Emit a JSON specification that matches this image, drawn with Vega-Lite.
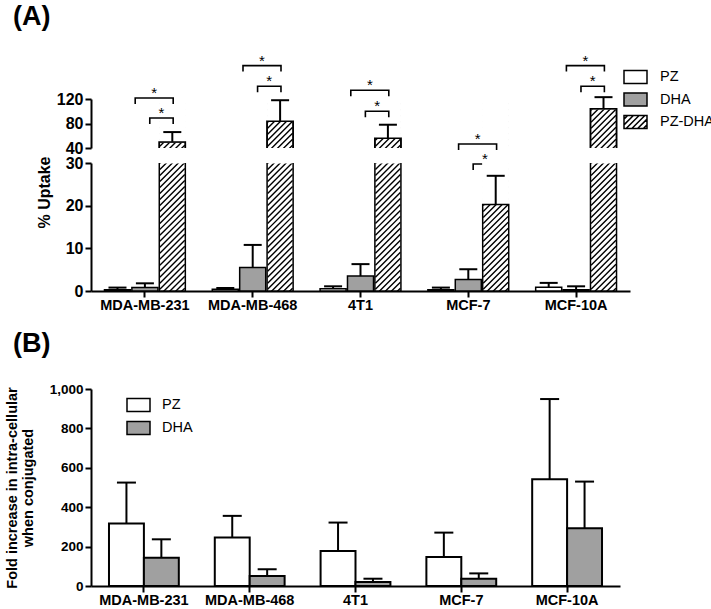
{
  "$schema": "https://vega.github.io/schema/vega-lite/v6.json",
  "padding": {"left": 4, "top": 2, "right": 0, "bottom": 0},
  "autosize": {"type": "pad"},
  "background": "white",
  "config": {
    "view": {"stroke": null},
    "font": "Liberation Sans",
    "axis": {"domainColor": "black", "domainWidth": 2, "ticks": true, "tickColor": "black", "tickWidth": 2, "tickSize": 6, "labelColor": "black", "labelFont": "Liberation Sans", "labelFontWeight": "bold", "labelFontSize": 16, "labelOverlap": false, "titleColor": "black", "titleFont": "Liberation Sans", "titleFontWeight": "bold", "titleFontSize": 16, "grid": false, "labelPadding": 2},
    "axisX": {"labelAngle": 0, "labelFontSize": 14.5, "labelPadding": 1},
    "title": {"font": "Liberation Sans", "fontWeight": "bold", "fontSize": 27, "color": "black", "anchor": "start", "frame": "group"}
  },
  "datasets": {
    "uptake": [
      {"cell": "MDA-MB-231", "group": "PZ", "mean": 0.3, "hi": 0.8},
      {"cell": "MDA-MB-231", "group": "DHA", "mean": 0.8, "hi": 1.8},
      {"cell": "MDA-MB-231", "group": "PZ-DHA", "mean": 50, "hi": 66},
      {"cell": "MDA-MB-468", "group": "PZ", "mean": 0.4, "hi": 0.7},
      {"cell": "MDA-MB-468", "group": "DHA", "mean": 5.5, "hi": 10.8},
      {"cell": "MDA-MB-468", "group": "PZ-DHA", "mean": 83.6, "hi": 118},
      {"cell": "4T1", "group": "PZ", "mean": 0.5, "hi": 1.1},
      {"cell": "4T1", "group": "DHA", "mean": 3.5, "hi": 6.3},
      {"cell": "4T1", "group": "PZ-DHA", "mean": 56, "hi": 78},
      {"cell": "MCF-7", "group": "PZ", "mean": 0.3, "hi": 0.8},
      {"cell": "MCF-7", "group": "DHA", "mean": 2.7, "hi": 5.1},
      {"cell": "MCF-7", "group": "PZ-DHA", "mean": 20.3, "hi": 27},
      {"cell": "MCF-10A", "group": "PZ", "mean": 0.9, "hi": 1.9},
      {"cell": "MCF-10A", "group": "DHA", "mean": 0.3, "hi": 1.1},
      {"cell": "MCF-10A", "group": "PZ-DHA", "mean": 104, "hi": 123}
    ],
    "sig": [
      {"cell": "MDA-MB-231", "kind": "outer", "level": 121.6},
      {"cell": "MDA-MB-231", "kind": "inner", "level": 89},
      {"cell": "MDA-MB-468", "kind": "outer", "level": 174.5},
      {"cell": "MDA-MB-468", "kind": "inner", "level": 140.7},
      {"cell": "4T1", "kind": "outer", "level": 134.2},
      {"cell": "4T1", "kind": "inner", "level": 99.9},
      {"cell": "MCF-7", "kind": "outer", "level": 46.5},
      {"cell": "MCF-7", "kind": "inner", "level": 13.9},
      {"cell": "MCF-10A", "kind": "outer", "level": 174.5},
      {"cell": "MCF-10A", "kind": "inner", "level": 140.7}
    ],
    "fold": [
      {"cell": "MDA-MB-231", "group": "PZ", "mean": 317, "hi": 525},
      {"cell": "MDA-MB-231", "group": "DHA", "mean": 144, "hi": 237},
      {"cell": "MDA-MB-468", "group": "PZ", "mean": 246, "hi": 356},
      {"cell": "MDA-MB-468", "group": "DHA", "mean": 51, "hi": 85},
      {"cell": "4T1", "group": "PZ", "mean": 178, "hi": 322},
      {"cell": "4T1", "group": "DHA", "mean": 20, "hi": 37},
      {"cell": "MCF-7", "group": "PZ", "mean": 147, "hi": 271},
      {"cell": "MCF-7", "group": "DHA", "mean": 37, "hi": 64},
      {"cell": "MCF-10A", "group": "PZ", "mean": 542, "hi": 949},
      {"cell": "MCF-10A", "group": "DHA", "mean": 293, "hi": 530}
    ]
  },
  "bounds": "flush",
  "spacing": 15,
  "resolve": {"scale": {"x": "independent", "y": "independent", "xOffset": "independent", "fill": "independent", "shape": "independent"}},
  "vconcat": [
    {
      "width": 539,
      "height": 49,
      "title": {"text": "(A)", "dx": -78, "offset": 23},
      "data": {"name": "uptake"},
      "layer": [
        {
          "mark": {"type": "bar", "clip": true, "stroke": "black", "strokeWidth": 1.5},
          "encoding": {
            "x": {"field": "cell", "type": "nominal", "scale": {"domain": ["MDA-MB-231", "MDA-MB-468", "4T1", "MCF-7", "MCF-10A"], "paddingInner": 0.25, "paddingOuter": 0.125}, "axis": null},
            "xOffset": {"field": "group", "type": "nominal", "scale": {"domain": ["PZ", "DHA", "PZ-DHA"], "paddingInner": 0.05, "paddingOuter": 0}},
            "y": {"field": "mean", "type": "quantitative", "scale": {"domain": [40, 120], "nice": false, "zero": false}, "axis": {"values": [40, 80, 120], "tickCount": 10, "title": null, "labelOverlap": false, "ticks": true}},
            "y2": {"datum": 0},
            "fill": {"field": "group", "type": "nominal", "scale": {"domain": ["PZ", "DHA", "PZ-DHA"], "range": ["white", "#a0a0a0", "white"]}}
          }
        },
        {
          "transform": [{"filter": "datum.group === 'PZ-DHA'"}],
          "mark": {"type": "point", "shape": "M-0.96,2.16L0.96,0.24M-0.96,1.7L0.96,-0.22M-0.96,1.24L0.96,-0.68M-0.96,0.78L0.96,-1.14M-0.96,0.32L0.96,-1.6M-0.96,-0.14L0.96,-2.06M-0.96,-0.6L0.96,-2.52M-0.96,-1.06L0.96,-2.98M-0.96,-1.52L0.96,-3.44M-0.96,-1.98L0.96,-3.9M-0.96,-2.44L0.96,-4.36M-0.96,-2.9L0.96,-4.82M-0.96,-3.36L0.96,-5.28", "size": 676, "filled": false, "stroke": "black", "strokeWidth": 1.4, "opacity": 1, "clip": true},
          "encoding": {
            "x": {"field": "cell", "type": "nominal", "scale": {"domain": ["MDA-MB-231", "MDA-MB-468", "4T1", "MCF-7", "MCF-10A"], "paddingInner": 0.25, "paddingOuter": 0.125}, "axis": null},
            "xOffset": {"field": "group", "type": "nominal", "scale": {"domain": ["PZ", "DHA", "PZ-DHA"], "paddingInner": 0.05, "paddingOuter": 0}},
            "y": {"datum": 40}
          }
        },
        {
          "transform": [{"filter": "datum.group === 'PZ-DHA'"}],
          "mark": {"type": "bar", "clip": true, "fill": "white", "stroke": "white", "strokeWidth": 1},
          "encoding": {
            "x": {"field": "cell", "type": "nominal", "scale": {"domain": ["MDA-MB-231", "MDA-MB-468", "4T1", "MCF-7", "MCF-10A"], "paddingInner": 0.25, "paddingOuter": 0.125}, "axis": null},
            "xOffset": {"field": "group", "type": "nominal", "scale": {"domain": ["PZ", "DHA", "PZ-DHA"], "paddingInner": 0.05, "paddingOuter": 0}},
            "y": {"field": "mean", "type": "quantitative", "scale": {"domain": [40, 120], "nice": false, "zero": false}},
            "y2": {"datum": 120}
          }
        },
        {
          "mark": {"type": "bar", "clip": true, "fillOpacity": 0, "stroke": "black", "strokeWidth": 1.5},
          "encoding": {
            "x": {"field": "cell", "type": "nominal", "scale": {"domain": ["MDA-MB-231", "MDA-MB-468", "4T1", "MCF-7", "MCF-10A"], "paddingInner": 0.25, "paddingOuter": 0.125}, "axis": null},
            "xOffset": {"field": "group", "type": "nominal", "scale": {"domain": ["PZ", "DHA", "PZ-DHA"], "paddingInner": 0.05, "paddingOuter": 0}},
            "y": {"field": "mean", "type": "quantitative", "scale": {"domain": [40, 120], "nice": false, "zero": false}},
            "y2": {"datum": 0}
          }
        },
        {
          "transform": [{"filter": "datum.mean > 40"}],
          "mark": {"type": "rule", "color": "black", "strokeWidth": 2},
          "encoding": {
            "x": {"field": "cell", "type": "nominal", "scale": {"domain": ["MDA-MB-231", "MDA-MB-468", "4T1", "MCF-7", "MCF-10A"], "paddingInner": 0.25, "paddingOuter": 0.125}, "axis": null},
            "xOffset": {"field": "group", "type": "nominal", "scale": {"domain": ["PZ", "DHA", "PZ-DHA"], "paddingInner": 0.05, "paddingOuter": 0}},
            "y": {"field": "mean", "type": "quantitative", "scale": {"domain": [40, 120], "nice": false, "zero": false}},
            "y2": {"field": "hi"}
          }
        },
        {
          "transform": [{"filter": "datum.mean > 40"}],
          "mark": {"type": "tick", "orient": "horizontal", "color": "black", "size": 18, "thickness": 2, "opacity": 1},
          "encoding": {
            "x": {"field": "cell", "type": "nominal", "scale": {"domain": ["MDA-MB-231", "MDA-MB-468", "4T1", "MCF-7", "MCF-10A"], "paddingInner": 0.25, "paddingOuter": 0.125}, "axis": null},
            "xOffset": {"field": "group", "type": "nominal", "scale": {"domain": ["PZ", "DHA", "PZ-DHA"], "paddingInner": 0.05, "paddingOuter": 0}},
            "y": {"field": "hi", "type": "quantitative", "scale": {"domain": [40, 120], "nice": false, "zero": false}}
          }
        },
        {
          "mark": {"type": "point", "filled": true, "stroke": "black", "strokeWidth": 1.5, "opacity": 1, "size": 529, "clip": true},
          "encoding": {
            "x": {"field": "cell", "type": "nominal", "scale": {"domain": ["MDA-MB-231", "MDA-MB-468", "4T1", "MCF-7", "MCF-10A"], "paddingInner": 0.25, "paddingOuter": 0.125}, "axis": null},
            "xOffset": {"field": "group", "type": "nominal", "scale": {"domain": ["PZ", "DHA", "PZ-DHA"], "paddingInner": 0.05, "paddingOuter": 0}},
            "y": {"datum": 0},
            "fill": {"field": "group", "type": "nominal", "scale": {"domain": ["PZ", "DHA", "PZ-DHA"], "range": ["white", "#a0a0a0", "white"]},
              "legend": {"orient": "none", "legendX": 532, "legendY": -34.5, "title": null, "direction": "vertical", "padding": 0, "rowPadding": 0.5, "symbolSize": 529, "symbolStrokeColor": "black", "symbolStrokeWidth": 1.5, "symbolOpacity": 1, "labelOffset": 12, "labelFontSize": 14.5, "labelFont": "Liberation Sans", "labelColor": "black"}},
            "shape": {"field": "group", "type": "nominal", "scale": {"domain": ["PZ", "DHA", "PZ-DHA"], "range": ["M-1,-0.565H1V0.565H-1Z", "M-1,-0.565H1V0.565H-1Z", "M-1,-0.565H1V0.565H-1Z M-1,-0.25L-0.685,-0.565 M-1,0.25L-0.185,-0.565 M-0.815,0.565L0.315,-0.565 M-0.315,0.565L0.815,-0.565 M0.185,0.565L1,-0.25 M0.685,0.565L1,0.25"]},
              "legend": {"orient": "none", "legendX": 532, "legendY": -34.5, "title": null, "direction": "vertical", "padding": 0, "rowPadding": 0.5, "symbolSize": 529, "symbolStrokeColor": "black", "symbolStrokeWidth": 1.5, "symbolOpacity": 1, "labelOffset": 12, "labelFontSize": 14.5, "labelFont": "Liberation Sans", "labelColor": "black"}}
          }
        },
        {
          "data": {"name": "sig"},
          "transform": [{"filter": "datum.kind === 'outer'"}],
          "mark": {"type": "point", "shape": "M-1,0.3158V0H1V0.3158", "size": 1444, "filled": false, "stroke": "black", "strokeWidth": 1.6, "opacity": 1},
          "encoding": {
            "x": {"field": "cell", "type": "nominal", "bandPosition": 0.615, "scale": {"domain": ["MDA-MB-231", "MDA-MB-468", "4T1", "MCF-7", "MCF-10A"], "paddingInner": 0.25, "paddingOuter": 0.125}, "axis": null},
            "y": {"field": "level", "type": "quantitative", "scale": {"domain": [40, 120], "nice": false, "zero": false}}
          }
        },
        {
          "data": {"name": "sig"},
          "transform": [{"filter": "datum.kind === 'inner'"}],
          "mark": {"type": "point", "shape": "M-1,0.513V0H1V0.513", "size": 547.6, "filled": false, "stroke": "black", "strokeWidth": 1.6, "opacity": 1},
          "encoding": {
            "x": {"field": "cell", "type": "nominal", "bandPosition": 0.705, "scale": {"domain": ["MDA-MB-231", "MDA-MB-468", "4T1", "MCF-7", "MCF-10A"], "paddingInner": 0.25, "paddingOuter": 0.125}, "axis": null},
            "y": {"field": "level", "type": "quantitative", "scale": {"domain": [40, 120], "nice": false, "zero": false}}
          }
        },
        {
          "data": {"name": "sig"},
          "transform": [{"filter": "datum.kind === 'outer'"}],
          "mark": {"type": "text", "font": "Liberation Sans", "fontSize": 15, "baseline": "alphabetic", "color": "black"},
          "encoding": {
            "x": {"field": "cell", "type": "nominal", "bandPosition": 0.615, "scale": {"domain": ["MDA-MB-231", "MDA-MB-468", "4T1", "MCF-7", "MCF-10A"], "paddingInner": 0.25, "paddingOuter": 0.125}, "axis": null},
            "y": {"field": "level", "type": "quantitative", "scale": {"domain": [40, 120], "nice": false, "zero": false}},
            "text": {"value": "*"}
          }
        },
        {
          "data": {"name": "sig"},
          "transform": [{"filter": "datum.kind === 'inner'"}],
          "mark": {"type": "text", "font": "Liberation Sans", "fontSize": 15, "baseline": "alphabetic", "color": "black"},
          "encoding": {
            "x": {"field": "cell", "type": "nominal", "bandPosition": 0.705, "scale": {"domain": ["MDA-MB-231", "MDA-MB-468", "4T1", "MCF-7", "MCF-10A"], "paddingInner": 0.25, "paddingOuter": 0.125}, "axis": null},
            "y": {"field": "level", "type": "quantitative", "scale": {"domain": [40, 120], "nice": false, "zero": false}},
            "text": {"value": "*"}
          }
        }
      ]
    },
    {
      "width": 539,
      "height": 128,
      "data": {"name": "uptake"},
      "layer": [
        {
          "mark": {"type": "bar", "clip": true, "strokeWidth": 0},
          "encoding": {
            "x": {"field": "cell", "type": "nominal", "scale": {"domain": ["MDA-MB-231", "MDA-MB-468", "4T1", "MCF-7", "MCF-10A"], "paddingInner": 0.25, "paddingOuter": 0.125}, "axis": {"title": null, "labelAngle": 0, "labelOverlap": false, "ticks": true}},
            "xOffset": {"field": "group", "type": "nominal", "scale": {"domain": ["PZ", "DHA", "PZ-DHA"], "paddingInner": 0.05, "paddingOuter": 0}},
            "y": {"field": "mean", "type": "quantitative", "scale": {"domain": [0, 30], "nice": false}, "axis": {"values": [0, 10, 20, 30], "tickCount": 10, "title": "% Uptake", "titleY": 29, "titlePadding": 13, "labelOverlap": false, "ticks": true}},
            "y2": {"datum": 0},
            "fill": {"field": "group", "type": "nominal", "scale": {"domain": ["PZ", "DHA", "PZ-DHA"], "range": ["white", "#a0a0a0", "white"]}, "legend": null}
          }
        },
        {
          "transform": [{"filter": "datum.group === 'PZ-DHA'"}],
          "mark": {"type": "point", "shape": "M-0.96,2.16L0.96,0.24M-0.96,1.7L0.96,-0.22M-0.96,1.24L0.96,-0.68M-0.96,0.78L0.96,-1.14M-0.96,0.32L0.96,-1.6M-0.96,-0.14L0.96,-2.06M-0.96,-0.6L0.96,-2.52M-0.96,-1.06L0.96,-2.98M-0.96,-1.52L0.96,-3.44M-0.96,-1.98L0.96,-3.9M-0.96,-2.44L0.96,-4.36M-0.96,-2.9L0.96,-4.82M-0.96,-3.36L0.96,-5.28M-0.96,-3.82L0.96,-5.74M-0.96,-4.28L0.96,-6.2M-0.96,-4.74L0.96,-6.66M-0.96,-5.2L0.96,-7.12M-0.96,-5.66L0.96,-7.58M-0.96,-6.12L0.96,-8.04M-0.96,-6.58L0.96,-8.5M-0.96,-7.04L0.96,-8.96M-0.96,-7.5L0.96,-9.42M-0.96,-7.96L0.96,-9.88M-0.96,-8.42L0.96,-10.34M-0.96,-8.88L0.96,-10.8M-0.96,-9.34L0.96,-11.26M-0.96,-9.8L0.96,-11.72", "size": 676, "filled": false, "stroke": "black", "strokeWidth": 1.4, "opacity": 1, "clip": true},
          "encoding": {
            "x": {"field": "cell", "type": "nominal", "scale": {"domain": ["MDA-MB-231", "MDA-MB-468", "4T1", "MCF-7", "MCF-10A"], "paddingInner": 0.25, "paddingOuter": 0.125}},
            "xOffset": {"field": "group", "type": "nominal", "scale": {"domain": ["PZ", "DHA", "PZ-DHA"], "paddingInner": 0.05, "paddingOuter": 0}},
            "y": {"datum": 0}
          }
        },
        {
          "transform": [{"filter": "datum.group === 'PZ-DHA'"}],
          "mark": {"type": "bar", "clip": true, "fill": "white", "stroke": "white", "strokeWidth": 1},
          "encoding": {
            "x": {"field": "cell", "type": "nominal", "scale": {"domain": ["MDA-MB-231", "MDA-MB-468", "4T1", "MCF-7", "MCF-10A"], "paddingInner": 0.25, "paddingOuter": 0.125}},
            "xOffset": {"field": "group", "type": "nominal", "scale": {"domain": ["PZ", "DHA", "PZ-DHA"], "paddingInner": 0.05, "paddingOuter": 0}},
            "y": {"field": "mean", "type": "quantitative", "scale": {"domain": [0, 30], "nice": false}},
            "y2": {"datum": 30}
          }
        },
        {
          "mark": {"type": "bar", "clip": true, "fillOpacity": 0, "stroke": "black", "strokeWidth": 1.5},
          "encoding": {
            "x": {"field": "cell", "type": "nominal", "scale": {"domain": ["MDA-MB-231", "MDA-MB-468", "4T1", "MCF-7", "MCF-10A"], "paddingInner": 0.25, "paddingOuter": 0.125}},
            "xOffset": {"field": "group", "type": "nominal", "scale": {"domain": ["PZ", "DHA", "PZ-DHA"], "paddingInner": 0.05, "paddingOuter": 0}},
            "y": {"field": "mean", "type": "quantitative", "scale": {"domain": [0, 30], "nice": false}},
            "y2": {"datum": 0}
          }
        },
        {
          "transform": [{"filter": "datum.hi <= 30"}],
          "mark": {"type": "rule", "color": "black", "strokeWidth": 2},
          "encoding": {
            "x": {"field": "cell", "type": "nominal", "scale": {"domain": ["MDA-MB-231", "MDA-MB-468", "4T1", "MCF-7", "MCF-10A"], "paddingInner": 0.25, "paddingOuter": 0.125}},
            "xOffset": {"field": "group", "type": "nominal", "scale": {"domain": ["PZ", "DHA", "PZ-DHA"], "paddingInner": 0.05, "paddingOuter": 0}},
            "y": {"field": "mean", "type": "quantitative", "scale": {"domain": [0, 30], "nice": false}},
            "y2": {"field": "hi"}
          }
        },
        {
          "transform": [{"filter": "datum.hi <= 30"}],
          "mark": {"type": "tick", "orient": "horizontal", "color": "black", "size": 18, "thickness": 2, "opacity": 1},
          "encoding": {
            "x": {"field": "cell", "type": "nominal", "scale": {"domain": ["MDA-MB-231", "MDA-MB-468", "4T1", "MCF-7", "MCF-10A"], "paddingInner": 0.25, "paddingOuter": 0.125}},
            "xOffset": {"field": "group", "type": "nominal", "scale": {"domain": ["PZ", "DHA", "PZ-DHA"], "paddingInner": 0.05, "paddingOuter": 0}},
            "y": {"field": "hi", "type": "quantitative", "scale": {"domain": [0, 30], "nice": false}}
          }
        }
      ]
    },
    {
      "width": 539,
      "height": 68,
      "data": {"values": [{"t": ""}]},
      "mark": {"type": "text"},
      "encoding": {"text": {"field": "t"}}
    },
    {
      "width": 529,
      "height": 197,
      "title": {"text": "(B)", "dx": -78, "offset": 24},
      "data": {"name": "fold"},
      "layer": [
        {
          "mark": {"type": "bar", "stroke": "black", "strokeWidth": 2},
          "encoding": {
            "x": {"field": "cell", "type": "nominal", "scale": {"domain": ["MDA-MB-231", "MDA-MB-468", "4T1", "MCF-7", "MCF-10A"], "paddingInner": 0.34, "paddingOuter": 0.17}, "axis": {"title": null, "labelAngle": 0, "labelOverlap": false, "ticks": true}},
            "xOffset": {"field": "group", "type": "nominal", "scale": {"domain": ["PZ", "DHA"], "paddingInner": 0, "paddingOuter": 0}},
            "y": {"field": "mean", "type": "quantitative", "scale": {"domain": [0, 1000], "nice": false}, "axis": {"values": [0, 200, 400, 600, 800, 1000], "tickCount": 10, "title": ["Fold increase in intra-cellular", "when conjugated"], "labelFontSize": 13.5, "titleFontSize": 14.5, "titleLineHeight": 16, "titlePadding": 14, "labelOverlap": false, "ticks": true}},
            "fill": {"field": "group", "type": "nominal", "scale": {"domain": ["PZ", "DHA"], "range": ["white", "#a0a0a0"]},
              "legend": {"orient": "none", "legendX": 35, "legendY": 3.5, "title": null, "direction": "vertical", "padding": 0, "rowPadding": 1, "symbolSize": 529, "symbolType": "M-1,-0.565H1V0.565H-1Z", "symbolStrokeColor": "black", "symbolStrokeWidth": 1.5, "labelOffset": 11, "labelFontSize": 14.5, "labelFont": "Liberation Sans", "labelColor": "black"}}
          }
        },
        {
          "mark": {"type": "rule", "color": "black", "strokeWidth": 2},
          "encoding": {
            "x": {"field": "cell", "type": "nominal", "scale": {"domain": ["MDA-MB-231", "MDA-MB-468", "4T1", "MCF-7", "MCF-10A"], "paddingInner": 0.34, "paddingOuter": 0.17}},
            "xOffset": {"field": "group", "type": "nominal", "scale": {"domain": ["PZ", "DHA"], "paddingInner": 0, "paddingOuter": 0}},
            "y": {"field": "mean", "type": "quantitative", "scale": {"domain": [0, 1000], "nice": false}},
            "y2": {"field": "hi"}
          }
        },
        {
          "mark": {"type": "tick", "orient": "horizontal", "color": "black", "size": 19, "thickness": 2, "opacity": 1},
          "encoding": {
            "x": {"field": "cell", "type": "nominal", "scale": {"domain": ["MDA-MB-231", "MDA-MB-468", "4T1", "MCF-7", "MCF-10A"], "paddingInner": 0.34, "paddingOuter": 0.17}},
            "xOffset": {"field": "group", "type": "nominal", "scale": {"domain": ["PZ", "DHA"], "paddingInner": 0, "paddingOuter": 0}},
            "y": {"field": "hi", "type": "quantitative", "scale": {"domain": [0, 1000], "nice": false}}
          }
        }
      ]
    }
  ]
}
